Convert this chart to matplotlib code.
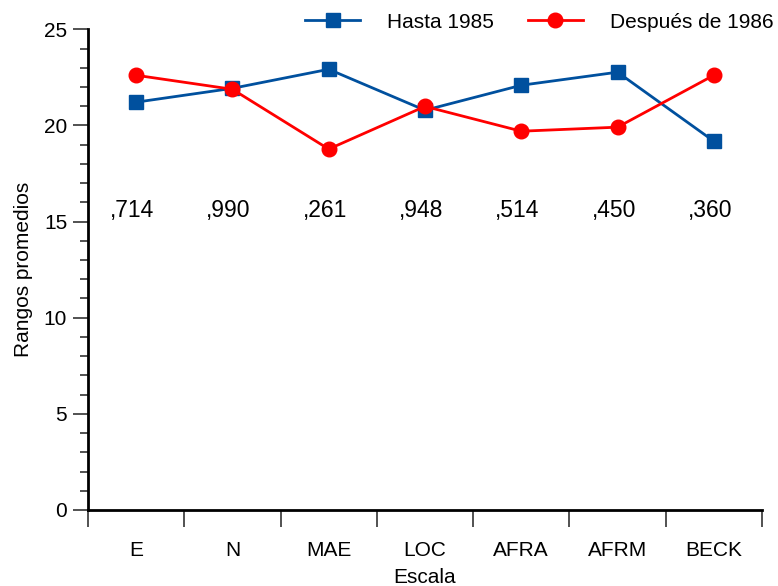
import numpy as np
import matplotlib
matplotlib.use("Agg")
import matplotlib.pyplot as plt
from matplotlib.ticker import MultipleLocator, FixedLocator, NullFormatter

plt.rcParams['font.family'] = ['Liberation Sans', 'DejaVu Sans']

# mean ranks per scale, two periods
escalas = ['E', 'N', 'MAE', 'LOC', 'AFRA', 'AFRM', 'BECK']
hasta_1985 = [21.21, 21.93, 22.92, 20.79, 22.09, 22.77, 19.18]
despues_1986 = [22.61, 21.88, 18.77, 20.99, 19.70, 19.91, 22.61]
# significance values printed under each pair
p_valores = [',714', ',990', ',261', ',948', ',514', ',450', ',360']
y_pval = 15.6

azul = '#00509e'
rojo = '#ff0000'

fig = plt.figure(figsize=(7.78, 5.86), dpi=100)
ax = fig.add_axes([0.1131, 0.1297, 0.8663, 0.8203])

x = np.arange(len(escalas))
ax.plot(x, hasta_1985, color=azul, lw=2, marker='s', ms=10.5,
        label='Hasta 1985', zorder=3)
ax.plot(x, despues_1986, color=rojo, lw=2, marker='o', ms=10.5,
        label='Después de 1986', zorder=3)

for xi, t in zip(x, p_valores):
    ax.text(xi - 0.04, y_pval, t, ha='center', va='center', fontsize=16.5)

ax.set_xlim(-0.5, len(escalas) - 0.5)
ax.set_ylim(0, 25)

# y axis: major every 5, minor every 1
ax.yaxis.set_major_locator(MultipleLocator(5))
ax.yaxis.set_minor_locator(MultipleLocator(1))
ax.tick_params(axis='y', which='major', length=11, width=1.2, labelsize=15,
               color='#333333', pad=4)
ax.tick_params(axis='y', which='minor', length=6, width=1.2, color='#333333')

# x axis: labels at centres, ticks at band edges
ax.xaxis.set_major_locator(FixedLocator(x))
ax.set_xticklabels(escalas)
ax.xaxis.set_minor_locator(FixedLocator(np.arange(len(escalas) + 1) - 0.5))
ax.xaxis.set_minor_formatter(NullFormatter())
ax.tick_params(axis='x', which='major', length=0, labelsize=15, pad=22)
ax.tick_params(axis='x', which='minor', length=12, width=1.2, color='#333333')

for s in ['top', 'right']:
    ax.spines[s].set_visible(False)
for s in ['left', 'bottom']:
    ax.spines[s].set_linewidth(2)

ax.set_ylabel('Rangos promedios', fontsize=15, labelpad=8)
ax.set_xlabel('Escala', fontsize=15, labelpad=6)

ax.legend(loc='center left', bbox_to_anchor=(0.322, 1.015), ncol=2,
          frameon=False, fontsize=15, handlelength=2.65, handletextpad=1.3,
          columnspacing=1.6, borderaxespad=0, borderpad=0)

fig.savefig('out.png', dpi=100)
